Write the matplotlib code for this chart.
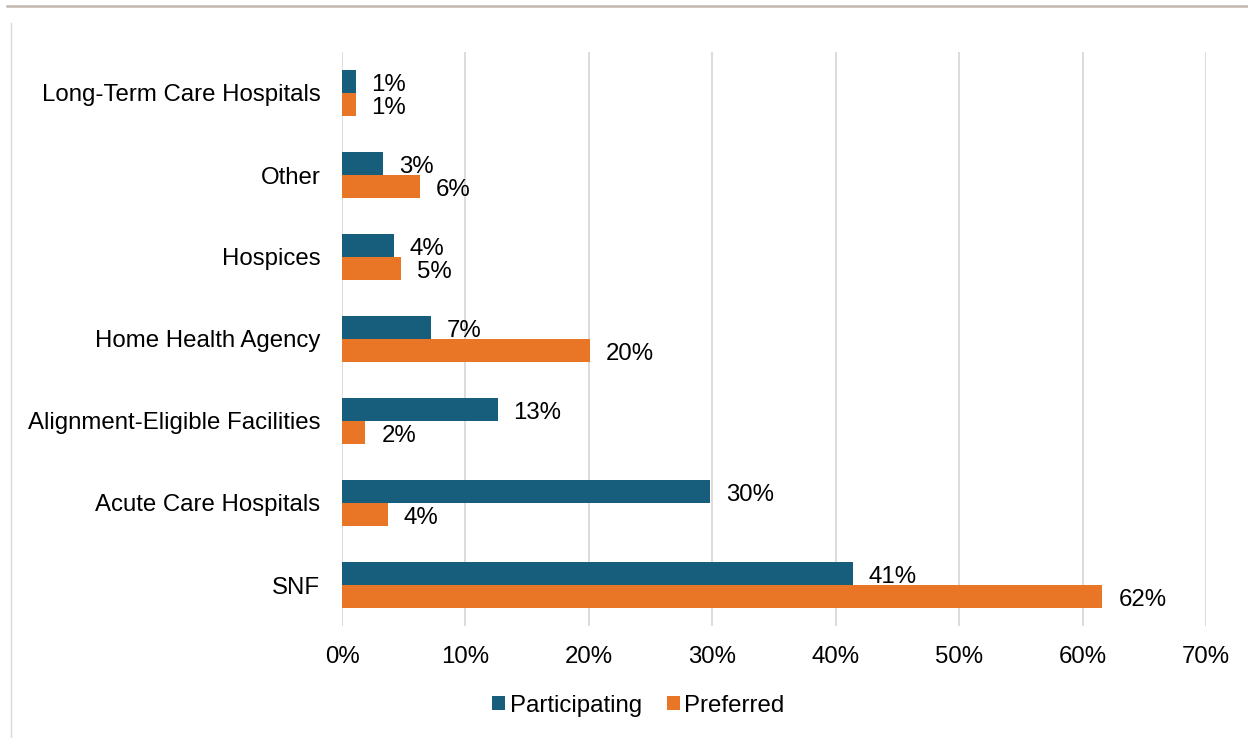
import matplotlib
matplotlib.use("Agg")
import matplotlib.pyplot as plt
from matplotlib.patches import Patch
from matplotlib.lines import Line2D
import numpy as np

plt.rcParams['font.family'] = ['Liberation Sans', 'DejaVu Sans']

categories = ["SNF", "Acute Care Hospitals", "Alignment-Eligible Facilities",
              "Home Health Agency", "Hospices", "Other", "Long-Term Care Hospitals"]
participating = [41.4, 29.8, 12.6, 7.2, 4.2, 3.3, 1.1]
preferred = [61.6, 3.7, 1.9, 20.1, 4.8, 6.3, 1.1]
series_names = ["Participating", "Preferred"]
x_ticks = [0, 10, 20, 30, 40, 50, 60, 70]

blue = "#175E7D"
orange = "#E97627"
grid_gray = "#D9D9D9"
fs = 17.3

W, H = 1248, 738
fig = plt.figure(figsize=(W / 100, H / 100), dpi=100)
ax = fig.add_axes([342 / W, 1 - 626 / H, (1206 - 342) / W, (626 - 52) / H])

y = np.arange(len(categories))
h = 0.28
b1 = ax.barh(y + h / 2, participating, height=h, color=blue, label=series_names[0])
b2 = ax.barh(y - h / 2, preferred, height=h, color=orange, label=series_names[1])

for bars, vals in ((b1, participating), (b2, preferred)):
    for rect, v in zip(bars, vals):
        ax.annotate(f"{v:.0f}%", xy=(rect.get_width(), rect.get_y() + rect.get_height() / 2),
                    xytext=(11.5, -0.5), textcoords="offset points",
                    va="center_baseline", ha="left", fontsize=fs, color="black")

ax.set_xlim(0, 70)
ax.set_ylim(-0.5, len(categories) - 0.5)
ax.set_xticks(x_ticks)
ax.set_xticklabels([f"{t}%" for t in x_ticks])
ax.set_yticks(y)
ax.set_yticklabels(categories)
ax.tick_params(axis="both", length=0, labelsize=fs, colors="black")
ax.tick_params(axis="x", pad=14.5)
ax.tick_params(axis="y", pad=15.5)
ax.xaxis.grid(True, color=grid_gray, linewidth=1.3)
ax.set_axisbelow(True)
for s in ax.spines.values():
    s.set_visible(False)

# frame decorations: top rule and left rule
fig.add_artist(Line2D([7 / W, 1.0], [1 - 6 / H, 1 - 6 / H], color="#C2B7AC", linewidth=1.8))
fig.add_artist(Line2D([10.5 / W, 10.5 / W], [0, 1 - 23 / H], color="#D9D9D9", linewidth=1.0))

handles = [Patch(facecolor=blue, edgecolor="none"), Patch(facecolor=orange, edgecolor="none")]
fig.legend(handles, series_names, loc="center", bbox_to_anchor=(638.5 / W, 1 - 706 / H),
           ncol=2, frameon=False, fontsize=fs, handlelength=0.52, handleheight=0.52,
           handletextpad=0.2, columnspacing=1.05, borderaxespad=0, borderpad=0)

fig.savefig("out.png", dpi=100)
